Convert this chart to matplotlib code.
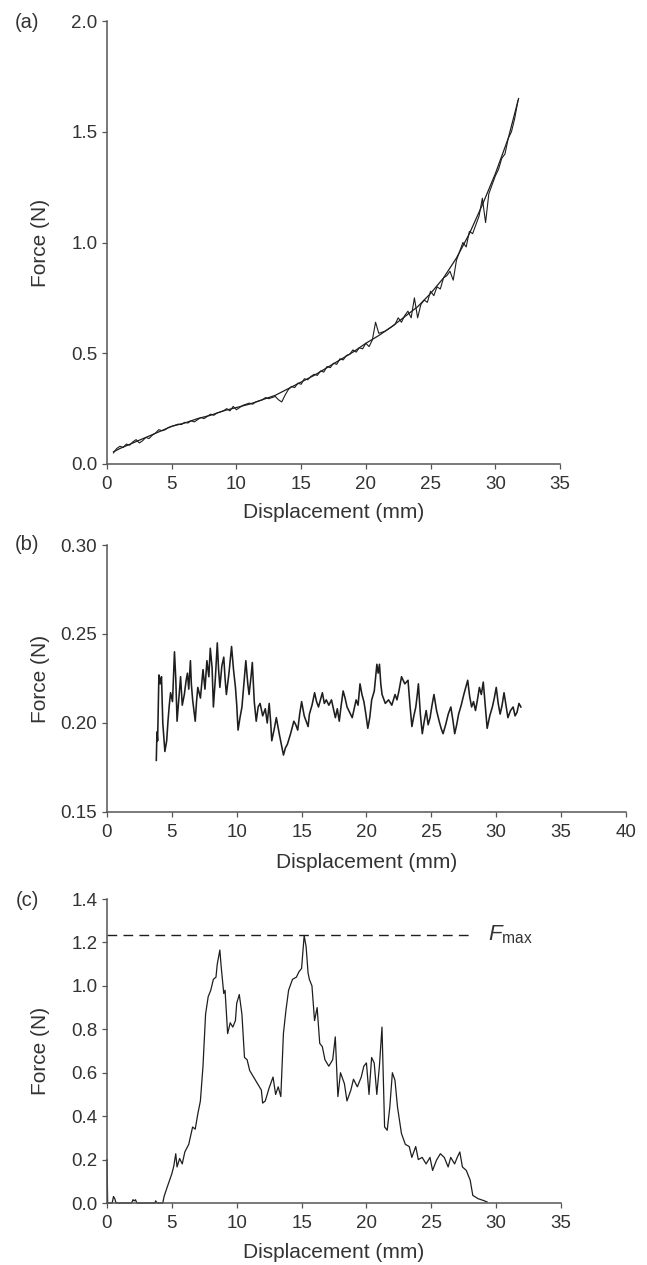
import matplotlib
matplotlib.use("Agg")
import matplotlib.pyplot as plt
import numpy as np

plt.rcParams['font.family'] = ['Liberation Sans', 'DejaVu Sans']
plt.rcParams['mathtext.fontset'] = 'custom'
plt.rcParams['mathtext.rm'] = 'Liberation Sans'
plt.rcParams['mathtext.it'] = 'Liberation Sans:italic'

# ---------------- data ----------------
# Panel (a): fitted curve
a_fit_x = [0.5, 1, 2, 3, 4, 5, 6, 7, 8, 9, 10, 11, 12, 13, 14, 15, 16, 17, 18, 19, 20,
           21, 22, 23, 24, 25, 26, 27, 28, 29, 30, 31, 31.8]
a_fit_y = [0.055, 0.07, 0.095, 0.12, 0.145, 0.17, 0.185, 0.205, 0.22, 0.24, 0.255, 0.27,
           0.29, 0.31, 0.34, 0.37, 0.40, 0.435, 0.47, 0.505, 0.545, 0.58, 0.62, 0.665,
           0.71, 0.77, 0.84, 0.93, 1.04, 1.17, 1.31, 1.47, 1.65]
# Panel (a): measured curve, sampled every 0.25 mm from 0.5 mm
a_start, a_step = 0.5, 0.25
a_meas_y = [0.05, 0.07, 0.08, 0.075, 0.09, 0.085, 0.10, 0.11, 0.095, 0.105,
            0.12, 0.115, 0.13, 0.14, 0.155, 0.15, 0.155, 0.165, 0.17, 0.175,
            0.18, 0.178, 0.188, 0.185, 0.195, 0.19, 0.20, 0.21, 0.205, 0.215,
            0.225, 0.22, 0.23, 0.235, 0.24, 0.25, 0.24, 0.26, 0.245, 0.255,
            0.265, 0.27, 0.275, 0.27, 0.28, 0.285, 0.29, 0.30, 0.295, 0.30,
            0.305, 0.29, 0.28, 0.31, 0.335, 0.35, 0.345, 0.365, 0.36, 0.385,
            0.38, 0.395, 0.405, 0.40, 0.42, 0.415, 0.44, 0.435, 0.455, 0.45,
            0.475, 0.47, 0.49, 0.495, 0.515, 0.505, 0.525, 0.52, 0.545, 0.53,
            0.56, 0.64, 0.59, 0.595, 0.60, 0.61, 0.62, 0.63, 0.66, 0.64,
            0.67, 0.69, 0.66, 0.75, 0.66, 0.72, 0.74, 0.73, 0.78, 0.76,
            0.80, 0.79, 0.84, 0.85, 0.87, 0.83, 0.92, 0.96, 1.00, 0.98,
            1.05, 1.04, 1.08, 1.12, 1.20, 1.09, 1.22, 1.26, 1.30, 1.33,
            1.38, 1.40, 1.47, 1.50, 1.56, 1.64]

# Panel (b)
b_x = [3.80, 3.85, 3.90, 4.00, 4.10, 4.20, 4.30, 4.46, 4.60, 4.70, 4.80, 4.90, 5.05, 5.20,
       5.30, 5.40, 5.55, 5.67, 5.80, 5.96, 6.10, 6.20, 6.30, 6.43, 6.50, 6.60, 6.70, 6.80,
       6.90, 7.00, 7.20, 7.40, 7.55, 7.70, 7.85, 7.96, 8.10, 8.20, 8.35, 8.50, 8.60, 8.70,
       8.85, 9.00, 9.10, 9.20, 9.40, 9.60, 9.75, 9.90, 10.00, 10.10, 10.25, 10.40, 10.55,
       10.70, 10.85, 10.95, 11.10, 11.20, 11.35, 11.50, 11.65, 11.80, 12.00, 12.20, 12.35,
       12.50, 12.60, 12.70, 12.90, 13.05, 13.30, 13.60, 13.75, 13.90, 14.15, 14.40, 14.55,
       14.70, 14.85, 15.00, 15.20, 15.35, 15.50, 15.60, 15.80, 16.00, 16.15, 16.30, 16.45,
       16.60, 16.75, 16.90, 17.10, 17.30, 17.45, 17.60, 17.75, 17.90, 18.05, 18.20, 18.35,
       18.50, 18.70, 18.90, 19.05, 19.20, 19.35, 19.50, 19.65, 19.80, 19.95, 20.10, 20.25,
       20.40, 20.60, 20.80, 20.90, 21.00, 21.10, 21.20, 21.45, 21.70, 21.95, 22.20, 22.35,
       22.50, 22.70, 22.95, 23.20, 23.35, 23.50, 23.65, 23.80, 23.90, 24.00, 24.15, 24.30,
       24.45, 24.60, 24.75, 24.90, 25.05, 25.20, 25.40, 25.60, 25.75, 25.90, 26.10, 26.30,
       26.50, 26.65, 26.80, 26.95, 27.10, 27.30, 27.50, 27.65, 27.80, 27.95, 28.10, 28.25,
       28.40, 28.55, 28.70, 28.85, 29.00, 29.15, 29.30, 29.50, 29.70, 29.85, 30.00, 30.15,
       30.30, 30.45, 30.60, 30.75, 30.90, 31.10, 31.30, 31.45, 31.60, 31.75, 31.90]
b_y = [0.179, 0.195, 0.190, 0.227, 0.222, 0.226, 0.200, 0.184, 0.190, 0.201, 0.210, 0.217,
       0.212, 0.240, 0.225, 0.201, 0.215, 0.226, 0.210, 0.216, 0.224, 0.228, 0.219, 0.235,
       0.222, 0.213, 0.207, 0.201, 0.212, 0.220, 0.214, 0.230, 0.219, 0.235, 0.226, 0.242,
       0.231, 0.209, 0.225, 0.245, 0.230, 0.220, 0.232, 0.237, 0.225, 0.216, 0.228, 0.243,
       0.230, 0.220, 0.210, 0.196, 0.203, 0.209, 0.222, 0.235, 0.222, 0.216, 0.226, 0.234,
       0.212, 0.201, 0.209, 0.211, 0.204, 0.208, 0.200, 0.211, 0.202, 0.190, 0.197, 0.203,
       0.193, 0.182, 0.186, 0.188, 0.194, 0.201, 0.199, 0.196, 0.205, 0.212, 0.204, 0.201,
       0.198, 0.205, 0.210, 0.217, 0.212, 0.209, 0.213, 0.217, 0.211, 0.213, 0.210, 0.213,
       0.208, 0.203, 0.208, 0.201, 0.210, 0.218, 0.214, 0.209, 0.206, 0.203, 0.208, 0.213,
       0.210, 0.222, 0.216, 0.212, 0.205, 0.197, 0.203, 0.213, 0.218, 0.233, 0.228, 0.233,
       0.222, 0.216, 0.211, 0.213, 0.210, 0.216, 0.213, 0.218, 0.226, 0.222, 0.224, 0.210,
       0.198, 0.204, 0.209, 0.215, 0.222, 0.205, 0.194, 0.201, 0.207, 0.199, 0.203, 0.210,
       0.216, 0.207, 0.201, 0.197, 0.194, 0.199, 0.205, 0.209, 0.202, 0.194, 0.199, 0.205,
       0.210, 0.216, 0.220, 0.224, 0.215, 0.209, 0.212, 0.207, 0.213, 0.220, 0.216, 0.223,
       0.210, 0.197, 0.204, 0.209, 0.214, 0.220, 0.211, 0.205, 0.210, 0.217, 0.210, 0.203,
       0.207, 0.209, 0.204, 0.206, 0.211, 0.209]

# Panel (c)
c_x = [0.00, 0.05, 0.40, 0.50, 0.60, 0.70, 1.00, 1.90, 2.00, 2.10, 2.20, 2.30, 3.70, 3.75,
       3.85, 4.30, 4.40, 4.60, 4.80, 5.00, 5.15, 5.30, 5.40, 5.60, 5.80, 6.00, 6.30, 6.60,
       6.80, 7.00, 7.20, 7.40, 7.60, 7.80, 8.00, 8.20, 8.40, 8.50, 8.70, 8.80, 9.00, 9.10,
       9.30, 9.50, 9.70, 9.90, 10.00, 10.20, 10.40, 10.60, 10.80, 11.00, 11.30, 11.60,
       11.90, 12.00, 12.20, 12.50, 12.80, 13.00, 13.20, 13.40, 13.60, 13.80, 14.00, 14.30,
       14.60, 14.80, 15.00, 15.20, 15.35, 15.50, 15.60, 15.80, 16.00, 16.20, 16.40, 16.60,
       16.80, 17.10, 17.40, 17.60, 17.80, 18.00, 18.30, 18.50, 18.80, 19.00, 19.30, 19.60,
       19.80, 20.00, 20.20, 20.40, 20.60, 20.80, 21.00, 21.20, 21.40, 21.60, 21.80, 22.00,
       22.20, 22.40, 22.70, 23.00, 23.30, 23.50, 23.80, 24.00, 24.30, 24.60, 24.90, 25.10,
       25.40, 25.70, 26.00, 26.30, 26.50, 26.80, 27.00, 27.20, 27.40, 27.70, 28.00, 28.20,
       28.60, 29.00, 29.30]
c_y = [0.20, 0.00, 0.00, 0.03, 0.02, 0.00, 0.00, 0.00, 0.015, 0.01, 0.015, 0.00, 0.00, 0.01,
       0.00, 0.00, 0.03, 0.066, 0.10, 0.135, 0.17, 0.227, 0.166, 0.205, 0.18, 0.235, 0.27,
       0.35, 0.34, 0.41, 0.47, 0.63, 0.87, 0.95, 0.98, 1.03, 1.04, 1.10, 1.165, 1.09, 0.965,
       0.98, 0.78, 0.83, 0.81, 0.84, 0.92, 0.96, 0.87, 0.67, 0.66, 0.61, 0.58, 0.55, 0.52,
       0.46, 0.47, 0.53, 0.58, 0.50, 0.535, 0.49, 0.78, 0.89, 0.98, 1.03, 1.04, 1.065, 1.08,
       1.232, 1.18, 1.06, 1.03, 1.00, 0.84, 0.90, 0.735, 0.72, 0.66, 0.63, 0.66, 0.765, 0.49,
       0.60, 0.55, 0.47, 0.52, 0.57, 0.535, 0.58, 0.63, 0.645, 0.50, 0.67, 0.645, 0.50, 0.63,
       0.81, 0.35, 0.335, 0.44, 0.60, 0.565, 0.44, 0.32, 0.27, 0.26, 0.21, 0.26, 0.20, 0.21,
       0.18, 0.21, 0.15, 0.197, 0.227, 0.21, 0.166, 0.21, 0.18, 0.21, 0.235, 0.166, 0.15,
       0.105, 0.035, 0.02, 0.012, 0.005]
f_max = 1.234
f_max_line_end = 28.1

# ---------------- figure ----------------
W, H = 647, 1265
fig = plt.figure(figsize=(W / 100, H / 100), dpi=100)

SPINE = '#555555'
TXT = '#333333'
LINE = '#1e1e1e'


def add_axes(l, t, r, b):
    return fig.add_axes([l / W, 1 - b / H, (r - l) / W, (b - t) / H])


def style(ax, xlim, ylim, xticks, yticks, yfmt, hpx, xoff=49):
    ax.set_xlim(*xlim)
    ax.set_ylim(*ylim)
    ax.set_xticks(xticks)
    ax.set_yticks(yticks)
    ax.set_yticklabels([yfmt.format(v) for v in yticks])
    for s in ('top', 'right'):
        ax.spines[s].set_visible(False)
    for s in ('left', 'bottom'):
        ax.spines[s].set_color(SPINE)
        ax.spines[s].set_linewidth(1.1)
    ax.tick_params(direction='out', length=3.8, width=0.9, color=SPINE,
                   labelsize=13.5, labelcolor=TXT)
    ax.tick_params(axis='x', pad=5)
    ax.tick_params(axis='y', pad=3.2)
    ax.set_xlabel('Displacement (mm)', fontsize=15, color=TXT, va='center')
    ax.xaxis.set_label_coords(0.5, -xoff / hpx)
    ax.set_ylabel('Force (N)', fontsize=15, color=TXT, va='center')
    ax.patch.set_alpha(0)


def place_ylabel(ax, l, r):
    ax.yaxis.set_label_coords((40 - l) / (r - l), 0.5)


# Panel (a)
axa = add_axes(107, 21, 560, 464)
style(axa, (0, 35), (0, 2.0), range(0, 36, 5), [0, 0.5, 1.0, 1.5, 2.0], '{:.1f}', 443, 48)
place_ylabel(axa, 107, 560)
a_meas_x = a_start + a_step * np.arange(len(a_meas_y))
axa.plot(a_fit_x, a_fit_y, color=LINE, lw=0.9)
axa.plot(a_meas_x, a_meas_y, color=LINE, lw=0.8)

# Panel (b)
axb = add_axes(107, 545, 626, 812)
style(axb, (0, 40), (0.15, 0.30), range(0, 41, 5), [0.15, 0.20, 0.25, 0.30], '{:.2f}', 267, 51)
place_ylabel(axb, 107, 626)
axb.plot(b_x, b_y, color=LINE, lw=1.15)

# Panel (c)
axc = add_axes(107, 899, 561, 1203)
style(axc, (0, 35), (0, 1.4), range(0, 36, 5), [0, 0.2, 0.4, 0.6, 0.8, 1.0, 1.2, 1.4], '{:.1f}', 304, 50)
place_ylabel(axc, 107, 561)
axc.plot(c_x, c_y, color=LINE, lw=0.9, clip_on=False)
axc.plot([0, f_max_line_end], [f_max, f_max], color=LINE, lw=1.0, dashes=(7, 4.5))
axc.text(29.4, f_max, r'$F_{\mathrm{max}}$', fontsize=16, color=TXT, ha='left', va='center')

# Panel letters
for lab, y in (('(a)', 22), ('(b)', 545), ('(c)', 900)):
    fig.text(27 / W, 1 - y / H, lab, fontsize=14.5, color=TXT, ha='center', va='center')

fig.savefig('out.png', dpi=100)
